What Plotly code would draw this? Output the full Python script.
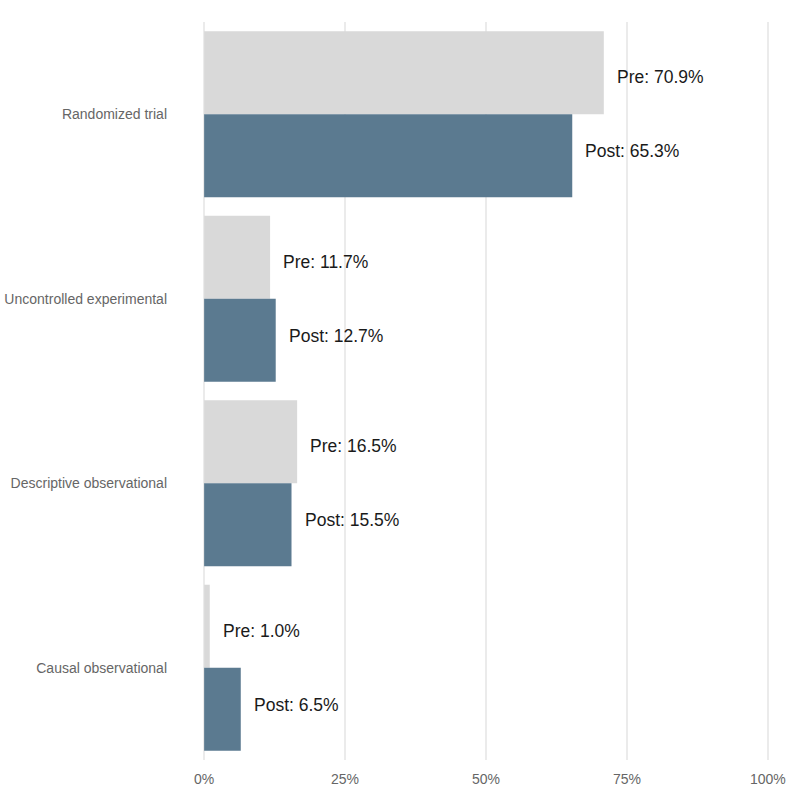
import plotly.graph_objects as go

categories = ["Randomized trial", "Uncontrolled experimental", "Descriptive observational", "Causal observational"]
pre_values = [70.9, 11.7, 16.5, 1.0]
post_values = [65.3, 12.7, 15.5, 6.5]
x_tickvals = [0, 25, 50, 75, 100]
x_ticktext = ["0%", "25%", "50%", "75%", "100%"]

PRE_COLOR = "#d9d9d9"
POST_COLOR = "#5b7a90"
FONT = "Liberation Sans, Arial, sans-serif"

fig = go.Figure()
fig.add_trace(go.Bar(y=categories, x=pre_values, orientation="h", name="Pre",
                     marker=dict(color=PRE_COLOR, line=dict(width=0)), hoverinfo="skip"))
fig.add_trace(go.Bar(y=categories, x=post_values, orientation="h", name="Post",
                     marker=dict(color=POST_COLOR, line=dict(width=0)), hoverinfo="skip"))

annotations = []
for i, (pre, post) in enumerate(zip(pre_values, post_values)):
    annotations.append(dict(x=pre, y=i - 0.2, xref="x", yref="y", text=f"Pre: {pre:.1f}%",
                            showarrow=False, xanchor="left", yanchor="middle", xshift=11,
                            font=dict(family=FONT, size=17.5, color="#1a1a1a")))
    annotations.append(dict(x=post, y=i + 0.2, xref="x", yref="y", text=f"Post: {post:.1f}%",
                            showarrow=False, xanchor="left", yanchor="middle", xshift=11,
                            font=dict(family=FONT, size=17.5, color="#1a1a1a")))

fig.update_layout(
    width=789, height=801,
    margin=dict(l=203, r=20, t=22, b=41),
    paper_bgcolor="white", plot_bgcolor="white",
    barmode="group", bargap=0.1, bargroupgap=0,
    showlegend=False,
    annotations=annotations,
    font=dict(family=FONT),
    xaxis=dict(range=[-0.2, 100.2], tickvals=x_tickvals, ticktext=x_ticktext, automargin=False,
               showgrid=True, gridcolor="#ebebeb", gridwidth=1.5, zeroline=False,
               showline=False, ticks="", ticklabelstandoff=9,
               tickfont=dict(size=14, color="#666666")),
    yaxis=dict(type="category", categoryorder="array", categoryarray=categories,
               autorange="reversed", showgrid=False, zeroline=False, showline=False,
               automargin=False, ticks="", ticklabelstandoff=35,
               tickfont=dict(size=14, color="#666666")),
)

fig.write_html("out.html")
